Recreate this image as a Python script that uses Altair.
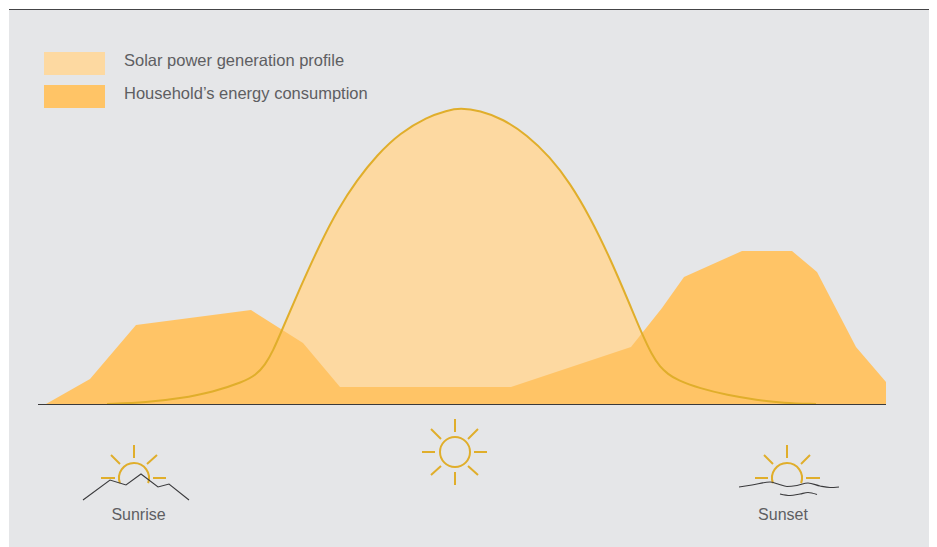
import altair as alt
import pandas as pd

# Scale units: position along the day (x) and level (y, inverted)
X_DOMAIN = [8, 929]
Y_DOMAIN = [547, 8]

solar_x = [107, 147, 180, 213, 243, 256, 265, 273, 282, 300, 320, 338, 357, 377, 400, 427, 447, 460, 480, 503, 527, 550, 570, 590, 610, 630, 642, 652, 660, 668, 677, 700, 727, 757, 783, 816]
solar_y = [404, 402.5, 398.5, 392, 382, 375, 365, 351, 330, 288, 244, 209, 180, 155, 133, 117, 110.5, 108, 110.5, 119, 135, 157, 183, 217, 258, 305, 334, 355, 367, 374, 380, 388.5, 395, 400, 403, 404]
house_x = [46, 90, 136, 251, 303, 340, 511, 631, 662, 684, 742, 792, 817, 856, 886]
house_y = [404, 379, 325, 310, 343, 387, 387, 347, 308, 277, 251, 251, 272, 347, 382]
BASE = 404

legend_names = ["Solar power generation profile", "Household\u2019s energy consumption"]
legend_colors = ["#FDD9A1", "#FFC466"]
legend_top = [52, 85]
legend_bottom = [75, 108]
legend_left, legend_right, legend_text_x = 44, 105, 124
legend_text_y = [61, 94]

icon_labels = ["Sunrise", "Sunset"]
icon_label_x = [138.5, 783]
icon_label_y = [515, 515]

rays = [
    # central sun
    (455, 419, 455, 432), (455, 472, 455, 485), (422, 452, 435, 452), (474, 452, 487, 452),
    (431, 429, 441, 439), (478, 429, 468, 439), (431, 475, 441, 466), (478, 475, 468, 466),
    # sunrise
    (134, 445, 134, 458), (101, 478, 115, 478), (153, 478, 166, 478), (111, 455, 120, 464), (157, 455, 147, 464),
    # sunset
    (787, 445, 787, 458), (755, 478, 768, 478), (806, 478, 820, 478), (764, 455, 773, 464), (810, 455, 801, 464),
]
full_sun = (455, 452)
half_suns_x = [134, 787]
half_suns_y = [478, 478]

mountain_x = [83, 110, 126, 141, 158, 169, 189]
mountain_y = [500, 480, 485, 474, 487, 484, 500]
wave1_x = [739, 752, 770, 778, 787, 797, 808, 820, 830, 839]
wave1_y = [487, 485, 482, 484, 486.5, 485.5, 483, 486, 487.5, 487]
wave2_x = [780, 790, 800, 808, 817]
wave2_y = [494, 495.5, 494, 492.5, 494.5]

PANEL = "#E5E6E8"
LINE = "#E0AE2B"
TEXT = "#5E5E62"
DARK = "#3A3A3C"
FONT = "Liberation Sans"

xs = alt.Scale(domain=X_DOMAIN, nice=False, zero=False)
ys = alt.Scale(domain=Y_DOMAIN, nice=False, zero=False)
X = lambda f="x": alt.X(f"{f}:Q", scale=xs, axis=None)
Y = lambda f="y": alt.Y(f"{f}:Q", scale=ys, axis=None)

panel = alt.Chart(pd.DataFrame({"x": [9], "x2": [929], "y": [10], "y2": [547]})).mark_rect(color=PANEL).encode(
    x=X(), x2="x2:Q", y=Y(), y2="y2:Q")
topline = alt.Chart(pd.DataFrame({"x": [9], "x2": [929], "y": [9.5]})).mark_rule(color="#444446", strokeWidth=1.2).encode(
    x=X(), x2="x2:Q", y=Y())

solar_df = pd.DataFrame({"x": solar_x, "y": solar_y, "y0": BASE})
house_df = pd.DataFrame({"x": house_x, "y": house_y, "y0": BASE})

solar_area = alt.Chart(solar_df).mark_area(color=legend_colors[0], interpolate="basis", opacity=1).encode(
    x=X(), y=Y(), y2="y0:Q")
house_area = alt.Chart(house_df).mark_area(color=legend_colors[1], interpolate="linear", opacity=1).encode(
    x=X(), y=Y(), y2="y0:Q")
solar_line = alt.Chart(solar_df).mark_line(color=LINE, strokeWidth=2, interpolate="basis").encode(x=X(), y=Y())
baseline = alt.Chart(pd.DataFrame({"x": [38], "x2": [886], "y": [404.5]})).mark_rule(color=DARK, strokeWidth=1.2).encode(
    x=X(), x2="x2:Q", y=Y())

legend_rects = alt.Chart(pd.DataFrame({
    "x": legend_left, "x2": legend_right, "y": legend_top, "y2": legend_bottom, "c": legend_colors
})).mark_rect().encode(x=X(), x2="x2:Q", y=Y(), y2="y2:Q", color=alt.Color("c:N", scale=None))
legend_text = alt.Chart(pd.DataFrame({"x": legend_text_x, "y": legend_text_y, "t": legend_names})).mark_text(
    align="left", baseline="middle", font=FONT, fontSize=16.5, color=TEXT).encode(x=X(), y=Y(), text="t:N")

ray_df = pd.DataFrame(rays, columns=["x", "y", "x2", "y2"])
ray_marks = alt.Chart(ray_df).mark_rule(color=LINE, strokeWidth=2).encode(x=X(), x2="x2:Q", y=Y(), y2="y2:Q")
sun = alt.Chart(pd.DataFrame({"x": [full_sun[0]], "y": [full_sun[1]]})).mark_point(
    shape="circle", size=900, filled=False, color=LINE, strokeWidth=2, opacity=1).encode(x=X(), y=Y())
half = alt.Chart(pd.DataFrame({"x": half_suns_x, "y": half_suns_y})).mark_arc(
    radius=15, radius2=15, theta=4.36, theta2=8.20, stroke=LINE, strokeWidth=2, fillOpacity=0).encode(x=X(), y=Y())

def squiggle(xv, yv, interp, width=1.1):
    df = pd.DataFrame({"x": xv, "y": yv, "o": range(len(xv))})
    return alt.Chart(df).mark_line(color=DARK, strokeWidth=width, interpolate=interp).encode(x=X(), y=Y(), order="o:Q")

icon_text = alt.Chart(pd.DataFrame({"x": icon_label_x, "y": icon_label_y, "t": icon_labels})).mark_text(
    align="center", baseline="middle", font=FONT, fontSize=16, color=TEXT).encode(x=X(), y=Y(), text="t:N")

chart = alt.layer(
    panel, topline, solar_area, house_area, solar_line, baseline, legend_rects, legend_text,
    ray_marks, sun, half,
    squiggle(mountain_x, mountain_y, "linear"),
    squiggle(wave1_x, wave1_y, "monotone"),
    squiggle(wave2_x, wave2_y, "monotone"),
    icon_text,
).properties(width=921, height=539, padding=0, autosize=alt.AutoSizeParams(type="none")).configure_view(stroke=None)

chart.save("out.html", embed_options={"renderer": "svg", "actions": False})
